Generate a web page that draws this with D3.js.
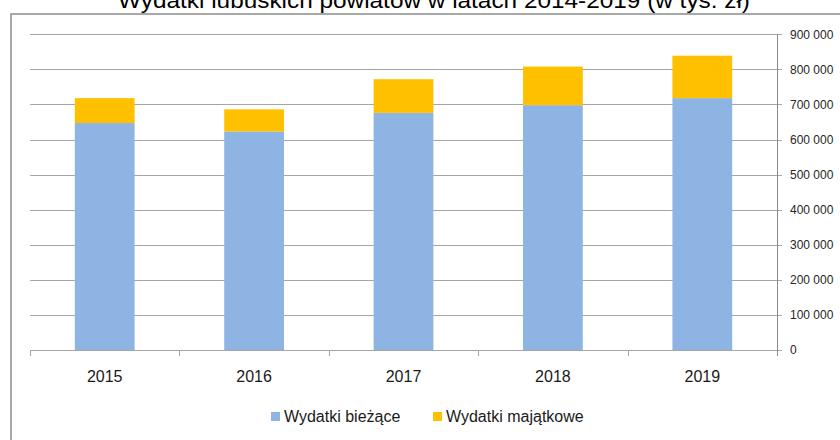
<!DOCTYPE html>
<html><head><meta charset="utf-8">
<script src="https://cdn.jsdelivr.net/npm/d3@7"></script>
<style>body{margin:0;background:#fff}svg{display:block}</style>
</head><body>
<svg id="c" width="840" height="440"></svg>
<script>
const title = "Wydatki lubuskich powiatów w latach 2014-2019 (w tys. zł)";
const categories = ["2015", "2016", "2017", "2018", "2019"];
const seriesNames = ["Wydatki bieżące", "Wydatki majątkowe"];
const biezace = [647000, 623000, 676000, 698000, 718000];
const majatkowe = [71000, 63000, 96000, 110000, 121000];
const yTicks = [0, 100000, 200000, 300000, 400000, 500000, 600000, 700000, 800000, 900000];
const colors = ["#8EB4E3", "#FFC000"];

const svg = d3.select("#c");
const font = "'Liberation Sans', Arial, sans-serif";

// frame
svg.append("path").attr("d", "M11,440V14H840").attr("fill", "none")
  .attr("stroke", "#8c8c8c").attr("stroke-width", 1.5);

// title
svg.append("text").attr("x", 434).attr("y", 8).attr("text-anchor", "middle")
  .attr("font-family", font).attr("font-size", 22).attr("fill", "#000")
  .attr("textLength", 632).attr("lengthAdjust", "spacingAndGlyphs").text(title);

const x = d3.scaleBand().domain(categories).range([30, 777]).paddingInner(0.6).paddingOuter(0.3);
const y = d3.scaleLinear().domain([0, 900000]).range([350, 34.3]);

// gridlines
svg.append("g").selectAll("line").data(yTicks.filter(d => d > 0)).join("line")
  .attr("x1", 30).attr("x2", 782)
  .attr("y1", d => Math.round(y(d)) + 0.5).attr("y2", d => Math.round(y(d)) + 0.5)
  .attr("stroke", "#a6a6a6").attr("stroke-width", 1);

// bars
const stack = d3.stack().keys([0, 1]).value((d, k) => d[k]);
const rows = categories.map((c, i) => [biezace[i], majatkowe[i]]);
const stacked = stack(rows);
stacked.forEach((s, k) => {
  svg.append("g").selectAll("rect").data(s).join("rect")
    .attr("x", (d, i) => x(categories[i]))
    .attr("width", x.bandwidth())
    .attr("y", d => y(d[1]))
    .attr("height", d => y(d[0]) - y(d[1]))
    .attr("fill", colors[k]);
});

// bottom axis
const axisCol = "#a6a6a6";
svg.append("line").attr("x1", 30).attr("x2", 782).attr("y1", 350.5).attr("y2", 350.5)
  .attr("stroke", axisCol);
const bounds = categories.map(c => x(c) - x.step() * x.paddingInner() / 2);
bounds.push(777);
bounds[0] = 30;
svg.append("g").selectAll("line").data(bounds).join("line")
  .attr("x1", d => Math.round(d) + 0.5).attr("x2", d => Math.round(d) + 0.5)
  .attr("y1", 350).attr("y2", 356).attr("stroke", axisCol);
svg.append("g").selectAll("text").data(categories).join("text")
  .attr("x", d => x(d) + x.bandwidth() / 2).attr("y", 382)
  .attr("text-anchor", "middle").attr("font-family", font).attr("font-size", 16)
  .attr("fill", "#1a1a1a").text(d => d);

// right axis
svg.append("line").attr("x1", 777.5).attr("x2", 777.5).attr("y1", 34).attr("y2", 356)
  .attr("stroke", "#8c8c8c");
const fmt = v => v === 0 ? "0" : d3.format(",")(v).replace(/,/g, " ");
svg.append("g").selectAll("text").data(yTicks).join("text")
  .attr("x", 790).attr("y", d => y(d)).attr("dy", "0.35em")
  .attr("font-family", font).attr("font-size", 12).attr("fill", "#262626")
  .text(fmt);

// legend
const lg = svg.append("g");
const lx = [271, 433];
seriesNames.forEach((n, k) => {
  lg.append("rect").attr("x", lx[k]).attr("y", 412).attr("width", 9).attr("height", 9)
    .attr("fill", colors[k]);
  lg.append("text").attr("x", lx[k] + 13).attr("y", 422)
    .attr("font-family", font).attr("font-size", 16).attr("fill", "#1a1a1a").text(n);
});
</script>
</body></html>
